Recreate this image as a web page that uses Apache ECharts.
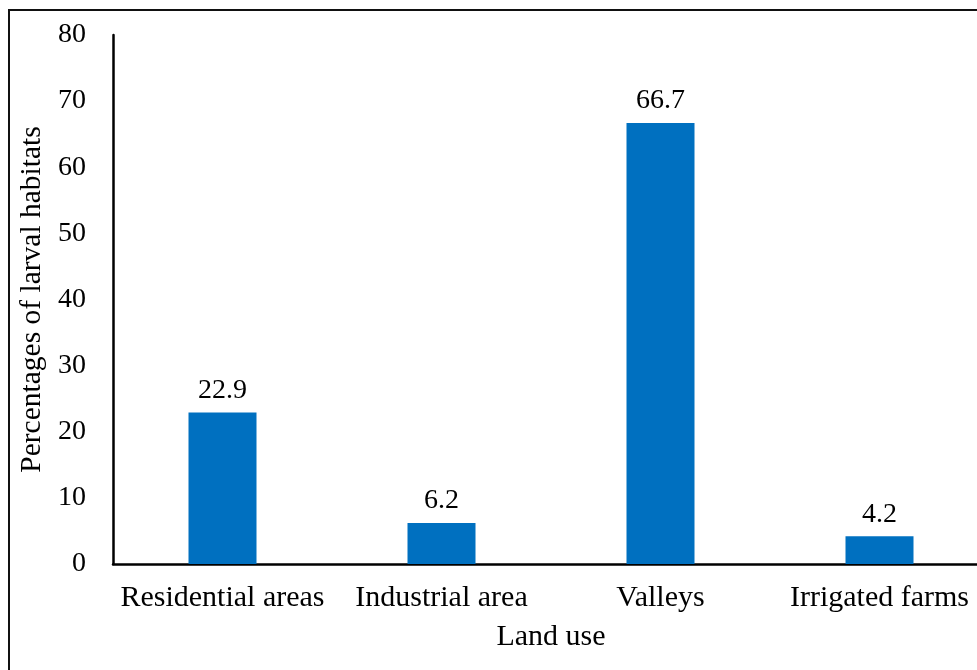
<!DOCTYPE html>
<html>
<head>
<meta charset="utf-8">
<script src="https://cdn.jsdelivr.net/npm/echarts@6/dist/echarts.min.js"></script>
<style>
  html, body { margin: 0; padding: 0; background: #fff; overflow: hidden; }
  #chart { width: 1000px; height: 670px; }
</style>
</head>
<body>
<div id="chart"></div>
<script>
// Share of larval habitats found under each type of land use
const categories = ['Residential areas', 'Industrial area', 'Valleys', 'Irrigated farms'];
const habitatPercent = [22.9, 6.2, 66.7, 4.2];
const yTicks = [0, 10, 20, 30, 40, 50, 60, 70, 80];

const FONT = "'Liberation Serif', 'Times New Roman', serif";
const chart = echarts.init(document.getElementById('chart'));

chart.setOption({
  animation: false,
  backgroundColor: '#fff',
  textStyle: { fontFamily: FONT, color: '#000' },
  graphic: [{
    // outer frame
    type: 'rect',
    shape: { x: 9, y: 10, width: 1100, height: 1000 },
    style: { fill: 'none', stroke: '#111', lineWidth: 2 },
    silent: true
  }],
  grid: { left: 113, top: 35, width: 876, height: 529, containLabel: false },
  xAxis: {
    type: 'category',
    data: categories,
    name: 'Land use',
    nameLocation: 'middle',
    nameGap: 58,
    nameTextStyle: { fontFamily: FONT, fontSize: 30, color: '#000' },
    axisLine: { lineStyle: { color: '#000', width: 2.5 } },
    axisTick: { show: false },
    axisLabel: { fontFamily: FONT, fontSize: 30, color: '#000', margin: 19, interval: 0 }
  },
  yAxis: {
    type: 'value',
    min: yTicks[0],
    max: yTicks[yTicks.length - 1],
    interval: yTicks[1] - yTicks[0],
    name: 'Percentages of larval habitats',
    nameLocation: 'middle',
    nameGap: 66,
    nameTextStyle: { fontFamily: FONT, fontSize: 29.5, color: '#000' },
    axisLine: { show: true, lineStyle: { color: '#000', width: 2.5 } },
    axisTick: { show: false },
    splitLine: { show: false },
    axisLabel: { fontFamily: FONT, fontSize: 28, color: '#000', margin: 27 }
  },
  series: [{
    type: 'bar',
    data: habitatPercent,
    barWidth: 68,
    itemStyle: { color: '#0070C0' },
    label: {
      show: true,
      position: 'top',
      distance: 8,
      fontFamily: FONT,
      fontSize: 28,
      color: '#000',
      formatter: p => p.value.toFixed(1)
    }
  }]
});
</script>
</body>
</html>
